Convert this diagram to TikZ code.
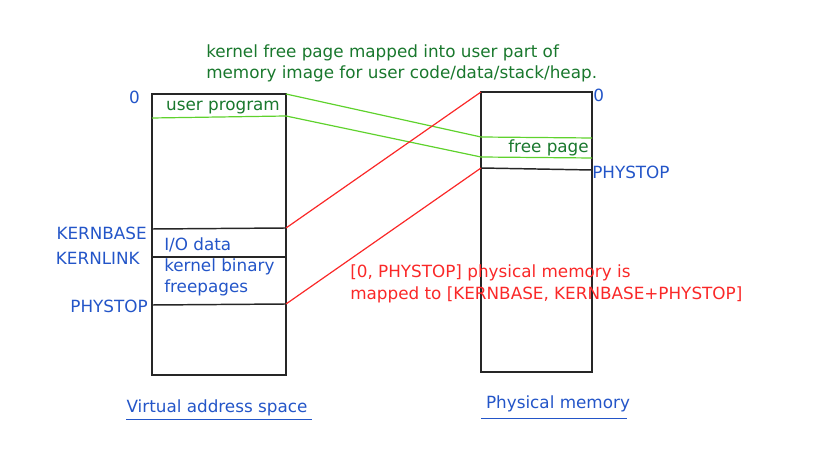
\documentclass[tikz,border=0pt]{standalone}
\usepackage{fontspec}
\setmainfont{DejaVu Sans}
\usetikzlibrary{positioning}
\definecolor{lblblue}{RGB}{35,85,200}
\definecolor{txtgreen}{RGB}{25,120,45}
\definecolor{lngreen}{RGB}{95,210,45}
\definecolor{mapred}{RGB}{250,40,40}
\tikzset{
  boxline/.style={line width=1.1pt, black!85},
  userline/.style={line width=0.9pt, lngreen},
  mapline/.style={line width=0.9pt, mapred},
  addr/.style={text=lblblue, inner sep=0pt},
  note/.style={align=left, inner sep=0pt},
}
\begin{document}
\begin{tikzpicture}[x=0.75pt, y=-0.75pt, font=\fontsize{12.6}{15.75}\selectfont]
\useasboundingbox (0,0) rectangle (813,473);
% virtual address space
\draw[boxline] (152,94) rectangle (286,375);
\coordinate (vtop) at (286,94);
\coordinate (vuser) at (286,116);
\coordinate (vkbase) at (286,228);
\coordinate (vpstop) at (286,304);
\draw[userline] (152,118) -- (vuser);
\draw[boxline] (152,229) -- (vkbase);
\draw[boxline] (152,257) -- (286,257);
\draw[boxline] (152,305) -- (vpstop);
\node[anchor=east, addr] (vzero) at (140,97) {0};
\node[anchor=east, addr] (vkb) at (147,233) {KERNBASE};
\node[anchor=east, addr] (vkl) at (140,258) {KERNLINK};
\node[anchor=east, addr] (vps) at (148,306) {PHYSTOP};
\node[text=txtgreen, inner sep=0pt] (uprog) at (223,108) {user program};
\node[anchor=west, note, text=lblblue] (kmem) at (164,267) {I/O data\\kernel binary\\freepages};
\node[text=lblblue, inner sep=0pt] (vas) at (217,408) {Virtual address space};
\coordinate (vasl) at (126,419);
\coordinate (vasr) at (312,419);
\draw[lblblue] (vasl) -- (vasr);
% physical memory
\draw[boxline] (481,92) rectangle (592,372);
\coordinate (ptop) at (481,92);
\coordinate (pfree) at (481,137);
\coordinate (pfreeb) at (481,157);
\coordinate (ppstop) at (481,168);
\draw[userline] (pfree) -- (592,138);
\draw[userline] (pfreeb) -- (592,158);
\draw[boxline] (ppstop) -- (592,170);
\node[anchor=west, addr] (pzero) at (593,95) {0};
\node[anchor=west, addr] (pps) at (592,172) {PHYSTOP};
\node[anchor=east, text=txtgreen, inner sep=0pt] (fpage) at (589,148) {free page};
\node[text=lblblue, inner sep=0pt] (pm) at (558,404) {Physical memory};
\coordinate (pml) at (481,418);
\coordinate (pmr) at (627,418);
\draw[lblblue] (pml) -- (pmr);
% mappings
\draw[userline] (vtop) -- (pfree);
\draw[userline] (vuser) -- (pfreeb);
\draw[mapline] (vkbase) -- (ptop);
\draw[mapline] (vpstop) -- (ppstop);
\node[anchor=west, note, text=txtgreen] (unote) at (206,63) {kernel free page mapped into user part of\\memory image for user code/data/stack/heap.};
\node[anchor=west, note, text=mapred, font=\fontsize{12.6}{16.5}\selectfont] (mnote) at (350,284) {[0, PHYSTOP] physical memory is\\mapped to [KERNBASE, KERNBASE+PHYSTOP]};
\end{tikzpicture}
\end{document}
